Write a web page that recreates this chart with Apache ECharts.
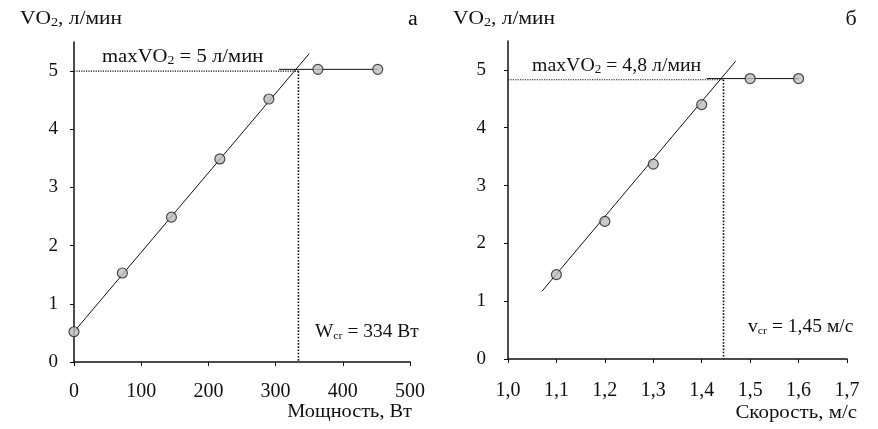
<!DOCTYPE html>
<html><head><meta charset="utf-8">
<script src="https://cdn.jsdelivr.net/npm/echarts@6/dist/echarts.min.js"></script>
<style>html,body{margin:0;padding:0;background:#fff}#c{width:878px;height:429px}</style>
</head><body><div id="c"></div>
<script>
// Panel а: power vs VO2
const powerW = [0, 72, 145, 217, 290, 363, 452];
const vo2A = [0.52, 1.53, 2.49, 3.49, 4.52, 5.03, 5.03];
const fitA = [[0, 0.52], [350, 5.3]];
const plateauA = [[305, 5.03], [452, 5.03]];
const maxA = 5.0, wCr = 334;
// Panel б: speed vs VO2
const speedB = [1.1, 1.2, 1.3, 1.4, 1.5, 1.6];
const vo2B = [1.46, 2.38, 3.37, 4.40, 4.85, 4.85];
const fitB = [[1.07, 1.17], [1.47, 5.15]];
const plateauB = [[1.41, 4.85], [1.6, 4.85]];
const maxB = 4.83, vCr = 1.445;
const ticksB = ['1,0','1,1','1,2','1,3','1,4','1,5','1,6','1,7'];

const FONT = '"Liberation Serif", "DejaVu Serif", serif';
const C = '#111';
const chart = echarts.init(document.getElementById('c'));

function xAx(idx, min, max, interval, fmt, margin) {
  return {type: 'value', gridIndex: idx, min, max, interval,
    axisLine: {show: true, onZero: false, lineStyle: {color: C, width: 1.5}},
    axisTick: {show: true, length: 4, lineStyle: {color: C}},
    splitLine: {show: false},
    axisLabel: {color: C, fontFamily: FONT, fontSize: 20, margin, formatter: fmt}};
}
function yAx(idx, margin) {
  return {type: 'value', gridIndex: idx, min: 0, max: 5.5, interval: 1,
    axisLine: {show: true, onZero: false, lineStyle: {color: C, width: 1.5}},
    axisTick: {show: true, length: 4, lineStyle: {color: C}},
    splitLine: {show: false},
    axisLabel: {color: C, fontFamily: FONT, fontSize: 19, margin, showMaxLabel: false,
      formatter: v => (v % 1 === 0 ? String(v) : '')}};
}
const lineS = (data, xi, yi, type, w) => ({type: 'line', xAxisIndex: xi, yAxisIndex: yi, data,
  showSymbol: false, symbol: 'none', silent: true, lineStyle: {color: C, width: w || 1, type: type || 'solid'}, z: 2});
const ptS = (data, xi, yi) => ({type: 'scatter', xAxisIndex: xi, yAxisIndex: yi, data,
  symbol: 'circle', symbolSize: 10, itemStyle: {color: '#bdbdbd', borderColor: '#222', borderWidth: 1.2}, z: 5});

const mkRich = (size, sub) => ({
  m: {fontFamily: FONT, fontSize: size, color: C, lineHeight: size + 2},
  s: {fontFamily: FONT, fontSize: sub, color: C, verticalAlign: 'bottom', lineHeight: size + 2}
});
const txt = (x, y, t, size, sub, sx, align) => ({type: 'text', x, y, scaleX: sx, originX: 0, originY: 0,
  style: {text: t, rich: mkRich(size, sub), font: size + 'px ' + FONT, fill: C, align: align || 'left', verticalAlign: 'middle'}});

chart.setOption({
  animation: false,
  grid: [
    {left: 74, right: 468, top: 42, bottom: 67},
    {left: 508, right: 31, top: 41, bottom: 70}
  ],
  xAxis: [
    xAx(0, 0, 500, 100, v => String(v), 20),
    xAx(1, 1.0, 1.7, 0.1, v => ticksB[Math.round((v - 1.0) * 10)] || '', 22)
  ],
  yAxis: [yAx(0, 16), yAx(1, 22)],
  series: [
    lineS(fitA, 0, 0),
    lineS(plateauA, 0, 0),
    lineS([[0, maxA], [wCr, maxA]], 0, 0, 'dotted', 1.2),
    lineS([[wCr, maxA], [wCr, 0]], 0, 0, 'dotted', 1.6),
    ptS(powerW.map((x, i) => [x, vo2A[i]]), 0, 0),
    lineS(fitB, 1, 1),
    lineS(plateauB, 1, 1),
    lineS([[1.0, maxB], [vCr, maxB]], 1, 1, 'dotted', 1.2),
    lineS([[vCr, maxB], [vCr, 0]], 1, 1, 'dotted', 1.6),
    ptS(speedB.map((x, i) => [x, vo2B[i]]), 1, 1)
  ],
  graphic: [
    txt(20, 19, '{m|VO}{s|2}{m|, л/мин}', 18, 12, 1.19),
    txt(413, 20, '{m|а}', 20, 12, 1.1, 'center'),
    txt(102, 57, '{m|maxVO}{s|2}{m| = 5 л/мин}', 18, 12, 1.15),
    txt(315, 332, '{m|W}{s|cr}{m| = 334 Вт}', 18, 11, 1.08),
    txt(412, 412, '{m|Мощность, Вт}', 19, 12, 1.07, 'right'),
    txt(453, 19, '{m|VO}{s|2}{m|, л/мин}', 18, 12, 1.19),
    txt(851, 20, '{m|б}', 20, 12, 1.1, 'center'),
    txt(532, 66, '{m|maxVO}{s|2}{m| = 4,8 л/мин}', 18, 12, 1.1),
    txt(748, 327, '{m|v}{s|cr}{m| = 1,45 м/с}', 18, 11, 1.085),
    txt(857, 413, '{m|Скорость, м/с}', 19, 12, 1.1, 'right')
  ]
});
</script></body></html>
